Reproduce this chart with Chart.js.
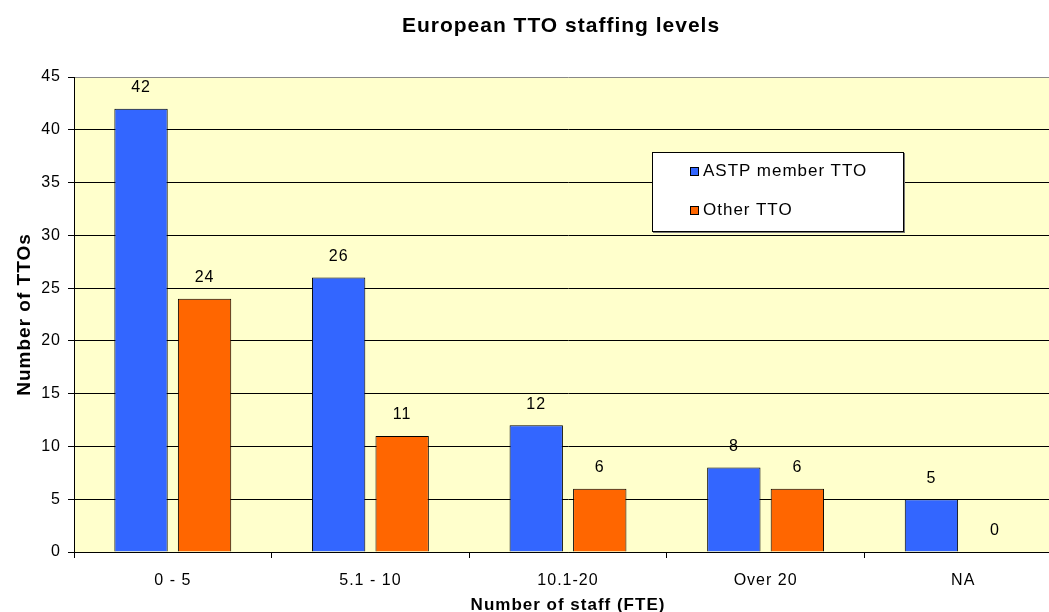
<!DOCTYPE html>
<html>
<head>
<meta charset="utf-8">
<title>European TTO staffing levels</title>
<script src="https://cdn.jsdelivr.net/npm/chart.js@4.4.1/dist/chart.umd.min.js"></script>
<style>
  html, body { margin: 0; padding: 0; background: #fff; overflow: hidden; }
  #wrap { position: relative; width: 1122px; height: 612px; overflow: hidden; }
  #legendBox {
    position: absolute; left: 652px; top: 152px; width: 250px; height: 78px;
    background: #fff; border: 1px solid #000; box-shadow: 1px 1px 0 #777;
    font-family: "Liberation Sans", Arial, sans-serif; font-size: 17px; letter-spacing: 1px; color: #000;
  }
  .item { position: absolute; left: 37px; display: flex; align-items: center; }
  .sw { width: 7px; height: 7px; border: 1px solid #000; margin-right: 4px; }
</style>
</head>
<body>
<div id="wrap">
  <canvas id="staffChart" width="1122" height="620"></canvas>
  <div id="legendBox">
    <div class="item" style="top:8px"><span class="sw" style="background:#3366FF"></span>ASTP member TTO</div>
    <div class="item" style="top:47px"><span class="sw" style="background:#FF6600"></span>Other TTO</div>
  </div>
</div>
<script>
// chart data
const categories = ['0 - 5', '5.1 - 10', '10.1-20', 'Over 20', 'NA'];
const astpMember = [42, 26, 12, 8, 5];
const otherTTO = [24, 11, 6, 6, 0];
const yTicks = [0, 5, 10, 15, 20, 25, 30, 35, 40, 45];
const chartTitle = 'European TTO staffing levels';

const fontFam = '"Liberation Sans", Arial, sans-serif';

// yellow plot background + slightly wider text spacing
const plotBg = {
    id: 'plotBg',
    beforeDraw(chart) {
        const a = chart.chartArea, c = chart.ctx;
        c.letterSpacing = '1px';
        c.save();
        c.fillStyle = '#FFFFCC';
        c.fillRect(a.left, a.top, a.right - a.left, a.bottom - a.top);
        c.restore();
    }
};

// title centred on the whole canvas
const bigTitle = {
    id: 'bigTitle',
    afterDraw(chart) {
        const c = chart.ctx;
        c.save();
        c.font = 'bold 21px ' + fontFam;
        c.fillStyle = '#000';
        c.textAlign = 'center';
        c.textBaseline = 'alphabetic';
        c.fillText(chartTitle, chart.width / 2, 32);
        c.restore();
    }
};

// value labels above the bars
const valueLabels = {
    id: 'valueLabels',
    afterDatasetsDraw(chart) {
        const c = chart.ctx;
        c.save();
        c.font = '16px ' + fontFam;
        c.fillStyle = '#000';
        c.textAlign = 'center';
        c.textBaseline = 'middle';
        chart.data.datasets.forEach((ds, i) => {
            chart.getDatasetMeta(i).data.forEach((bar, j) => {
                c.fillText(String(ds.data[j]), bar.x, bar.y - 21);
            });
        });
        c.restore();
    }
};

const ctx = document.getElementById('staffChart').getContext('2d');
new Chart(ctx, {
    type: 'bar',
    data: {
        labels: categories,
        datasets: [
            {
                label: 'ASTP member TTO',
                data: astpMember,
                backgroundColor: '#3366FF',
                borderColor: '#000',
                borderWidth: 1
            },
            {
                label: 'Other TTO',
                data: otherTTO,
                backgroundColor: '#FF6600',
                borderColor: '#000',
                borderWidth: c => (c.raw === 0 ? 0 : 1)
            }
        ]
    },
    options: {
        responsive: false,
        animation: false,
        events: [],
        categoryPercentage: 0.643,
        barPercentage: 0.84,
        layout: { padding: { left: 0, right: 60, top: 77, bottom: 0 } },
        plugins: {
            legend: { display: false }, // html legend inside plot
            tooltip: { enabled: false },
            title: { display: false }
        },
        scales: {
            x: {
                offset: true,
                grid: { offset: true, drawOnChartArea: false, color: '#000', tickLength: 6 },
                border: { color: '#000', width: 1 },
                ticks: { color: '#000', font: { family: fontFam, size: 16 }, padding: 13, maxRotation: 0 },
                title: {
                    display: true,
                    text: 'Number of staff (FTE)',
                    color: '#000',
                    font: { family: fontFam, size: 17, weight: 'bold' },
                    padding: { top: 0, bottom: 4 }
                },
                afterFit: s => { s.height = 68; }
            },
            y: {
                min: 0,
                max: 45,
                afterBuildTicks: s => { s.ticks = yTicks.map(v => ({ value: v })); },
                grid: {
                    color: c => (c.tick && c.tick.value === 45 ? '#888' : '#000'),
                    tickColor: '#000',
                    tickLength: 6
                },
                border: { color: '#000', width: 1 },
                ticks: { color: '#000', font: { family: fontFam, size: 16 }, padding: 7 },
                title: {
                    display: true,
                    text: 'Number of TTOs',
                    color: '#000',
                    font: { family: fontFam, size: 19, weight: 'bold' },
                    padding: { top: 13, bottom: 0 }
                },
                afterFit: s => { s.width = 74; }
            }
        }
    },
    plugins: [plotBg, valueLabels, bigTitle]
});
</script>
</body>
</html>
